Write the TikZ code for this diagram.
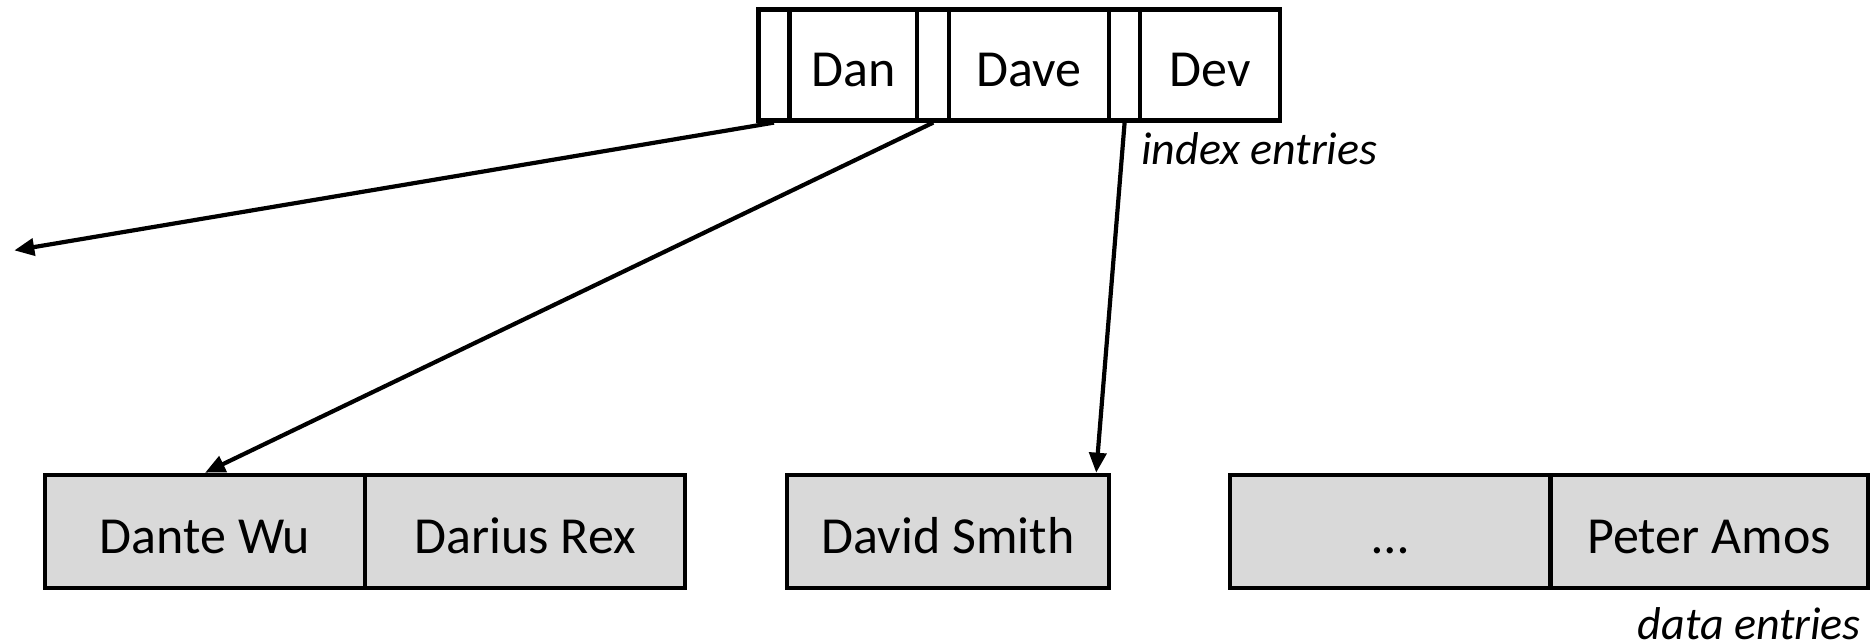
\documentclass[tikz,border=0pt]{standalone}
\usepackage{fontspec}
\setmainfont{Carlito}
\usetikzlibrary{arrows.meta}
\begin{document}
\begin{tikzpicture}[x=1pt,y=-1pt,
  cell/.style={draw,line width=4.2pt,inner sep=0pt,minimum height=111pt,text height=44pt,text depth=0pt,font=\fontsize{52}{60}\selectfont},
  dcell/.style={cell,fill=black!15,minimum height=113pt,minimum width=320pt},
  lbl/.style={font=\fontsize{46}{54}\selectfont\itshape,inner sep=0pt},
  arr/.style={line width=4.2pt,-{Triangle[length=20pt,width=17pt]}}]
\useasboundingbox (0,0) rectangle (1870,644);
% index node
\node[cell,minimum width=31pt] (p1) at (774,65) {};
\node[cell,minimum width=127.6pt] (dan) at (853.3,65) {Dan};
\node[cell,minimum width=32.2pt] (p2) at (933.2,65) {};
\node[cell,minimum width=159.8pt] (dave) at (1029.2,65) {Dave};
\node[cell,minimum width=31pt] (p3) at (1124.6,65) {};
\node[cell,minimum width=139.6pt] (dev) at (1209.9,65) {Dev};
\node[lbl,anchor=west] (ie) at (1141,149) {index entries};
% data nodes
\node[dcell] (dante) at (205.1,531.3) {Dante Wu};
\node[dcell] (darius) at (525.3,531.3) {Darius Rex};
\node[dcell,minimum width=322pt] (david) at (948.1,531.3) {David Smith};
\node[dcell] (dots) at (1390,531.3) {\dots};
\node[dcell,minimum width=317.2pt] (peter) at (1709,531.3) {Peter Amos};
\node[lbl,anchor=east] (de) at (1861,624) {data entries};
% arrows
\coordinate (free) at (14.3,250.4);
\draw[arr] (p1.south) -- (free);
\draw[arr] (p2.south) -- (dante.north);
\draw[arr] (p3.south) -- ([xshift=-15pt]david.north east);
\end{tikzpicture}
\end{document}
